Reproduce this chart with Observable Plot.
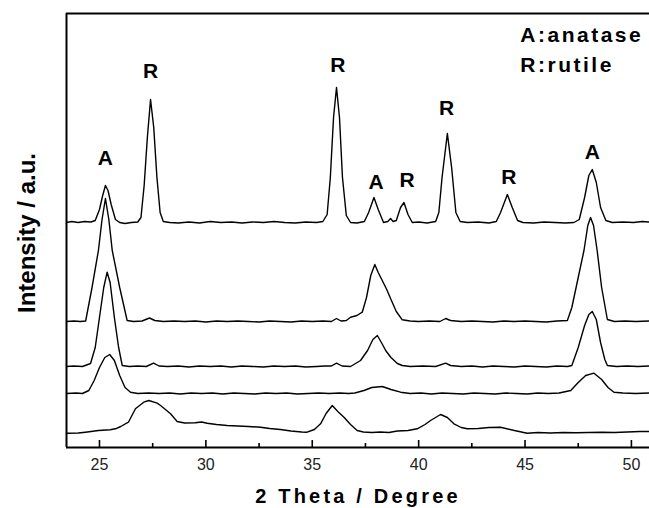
<!DOCTYPE html>
<html><head><meta charset="utf-8">
<script src="https://cdn.jsdelivr.net/npm/d3@7"></script>
<script src="https://cdn.jsdelivr.net/npm/@observablehq/plot@0.6"></script>
<style>
html,body{margin:0;padding:0;background:#fff;}
</style></head><body><div id="chart"></div>
<script>
// 2θ (degree) vs intensity (a.u., stacked with offsets)
const seriesNames = ["sample 1", "sample 2", "sample 3", "sample 4", "sample 5"];
const trace1 = [[23.45,225],[23.7,226],[24.0,225],[24.3,226],[24.6,225.5],[24.8,227],[25.0,238],[25.15,252],[25.28,262],[25.4,257],[25.55,243],[25.75,228],[25.95,225],[26.2,224],[26.5,225],[26.8,225.5],[26.95,230],[27.1,262],[27.25,310],[27.4,348],[27.55,320],[27.7,270],[27.85,235],[28.0,226],[28.3,225],[28.7,224.5],[29.2,225.5],[29.7,224.5],[30.2,226],[30.7,225],[31.2,225.5],[31.7,224.5],[32.2,225.5],[32.7,225],[33.2,226],[33.7,225],[34.2,224.5],[34.7,225.5],[35.2,225],[35.5,226],[35.7,233],[35.85,270],[36.0,330],[36.14,360],[36.28,330],[36.42,270],[36.6,232],[36.8,225],[37.1,224.5],[37.45,226],[37.65,235],[37.9,250],[38.1,238],[38.35,225],[38.55,226],[38.68,229],[38.8,226],[38.95,227],[39.15,240],[39.31,245],[39.5,233],[39.7,225],[40.0,225.5],[40.4,224.5],[40.8,226],[40.95,235],[41.1,270],[41.35,314],[41.55,280],[41.75,235],[41.95,226],[42.3,225],[42.8,225.5],[43.3,224.5],[43.65,226],[43.85,235],[44.17,253],[44.4,240],[44.65,227],[44.9,225],[45.4,224.5],[45.9,225.5],[46.4,225],[46.9,224.5],[47.3,225],[47.55,228],[47.8,250],[48.0,272],[48.16,278],[48.35,265],[48.55,240],[48.8,227],[49.1,225],[49.6,225.5],[50.1,225],[50.5,226],[50.85,225.5]];
const trace2 = [[23.45,126],[23.8,126.5],[24.1,126],[24.35,126.5],[24.65,160],[24.95,197],[25.12,228],[25.28,249],[25.44,228],[25.6,197],[25.95,160],[26.3,127],[26.6,126],[27.0,126.5],[27.35,129.5],[27.6,127],[28.0,126],[28.5,126.5],[29.0,126],[29.5,126.5],[30.0,125.5],[30.5,126.5],[31.0,126],[31.5,126.5],[32.0,126],[32.5,125.5],[33.0,126.5],[33.5,126],[34.0,125.5],[34.5,126.5],[35.0,126],[35.5,126.5],[35.9,126],[36.14,129],[36.35,126.5],[36.6,127],[36.8,130.3],[37.1,132],[37.35,135.3],[37.55,150],[37.75,172],[37.94,183],[38.1,175],[38.29,167],[38.5,158],[38.68,149],[38.95,136],[39.23,127.7],[39.6,126.5],[40.0,126],[40.5,126.5],[41.0,126],[41.27,129],[41.5,127],[42.0,126],[42.5,126.5],[43.0,126],[43.5,125.5],[44.0,126.5],[44.5,126],[45.0,126.5],[45.5,126],[46.0,125.5],[46.5,126.5],[46.99,127],[47.2,140],[47.45,165],[47.77,197],[47.95,222],[48.08,230],[48.22,222],[48.39,197],[48.6,160],[48.87,128],[49.2,126],[49.7,126.5],[50.2,126],[50.85,126.5]];
const trace3 = [[23.45,81],[23.8,81.5],[24.2,81],[24.58,84],[24.8,100],[25.0,130],[25.2,160],[25.36,175.3],[25.5,165],[25.7,130],[25.9,100],[26.07,82],[26.4,81],[26.8,81.5],[27.2,81],[27.54,84.3],[27.8,81.5],[28.2,81],[28.7,81.5],[29.2,80.5],[29.7,81.5],[30.2,81],[30.7,81.5],[31.2,80.5],[31.7,81.5],[32.2,81],[32.7,80.5],[33.2,81.5],[33.7,81],[34.2,81.5],[34.7,80.5],[35.2,81],[35.6,81.5],[35.9,81.5],[36.14,84.3],[36.4,81.5],[36.8,81],[37.27,87],[37.6,97],[37.85,108],[38.06,112],[38.25,105],[38.45,97],[38.7,90],[39.0,84],[39.23,82],[39.6,81],[40.2,81.5],[40.8,81],[41.27,84.3],[41.5,82],[42.0,81],[42.5,81.5],[43.0,80.5],[43.5,81.5],[44.0,81],[44.5,80.5],[45.0,81.5],[45.5,81],[46.0,80.5],[46.5,81.5],[47.0,81],[47.2,82],[47.5,100],[47.8,122],[48.0,133],[48.16,136],[48.35,128],[48.55,105],[48.75,88],[48.87,82],[49.3,81],[49.8,81.5],[50.3,81],[50.85,81.5]];
const trace4 = [[23.45,54],[23.9,54.5],[24.2,54],[24.5,57],[24.75,67],[25.0,80],[25.25,90],[25.48,93],[25.7,87],[25.95,72],[26.2,60],[26.46,55.3],[26.8,54],[27.3,54.5],[27.8,54],[28.3,54.5],[28.8,53.5],[29.3,54.5],[29.8,54],[30.3,54.5],[30.8,53.5],[31.3,54.5],[31.8,54],[32.3,53.5],[32.8,54.5],[33.3,54],[33.8,54.5],[34.3,53.5],[34.8,54],[35.3,54.5],[35.8,54],[36.3,54.5],[36.7,54],[37.0,54.5],[37.43,57],[37.8,60],[38.29,61],[38.7,58],[39.15,55.3],[39.6,54],[40.1,54.5],[40.6,53.5],[41.1,54.5],[41.6,54],[42.1,53.5],[42.6,54.5],[43.1,54],[43.6,53.5],[44.1,54.5],[44.6,54],[45.1,53.5],[45.6,54.5],[46.1,54],[46.6,54.5],[47.15,57],[47.5,65],[47.85,72],[48.24,74.3],[48.6,68],[48.9,60],[49.18,55.3],[49.6,54.5],[50.2,54],[50.85,54.5]];
const trace5 = [[23.45,14.3],[24.0,14.5],[24.34,15.3],[24.95,17],[25.5,17.7],[25.75,18.7],[26.0,21],[26.36,25.3],[26.69,38.7],[27.08,45.3],[27.32,47],[27.71,44.3],[27.87,42],[28.34,33.7],[28.65,26],[29.0,24.5],[29.5,24.8],[29.8,25.5],[30.06,24.3],[30.5,23],[31.0,22],[31.5,21.5],[32.0,21],[32.57,20.3],[33.0,19],[33.5,18],[34.0,16.5],[34.5,15.5],[34.76,15.3],[35.1,18],[35.39,23.7],[35.65,34],[35.94,42],[36.2,36],[36.49,30.3],[36.8,23],[37.11,17],[37.4,15.5],[37.8,15],[38.2,15.5],[38.6,15],[39.0,16.5],[39.5,17],[39.93,18.7],[40.3,23],[40.56,27],[41.03,33],[41.35,30],[41.66,23.7],[42.0,20],[42.29,18.7],[42.8,19],[43.3,20],[43.85,20.3],[44.5,17],[45.1,14.3],[45.6,15],[46.2,14.5],[46.8,15],[47.4,14.7],[48.0,15],[48.6,15.3],[49.2,15],[49.8,15.5],[50.4,16],[50.85,16]];
const traces = [trace1, trace2, trace3, trace4, trace5];

const xTicks = [25, 30, 35, 40, 45, 50];
const xMinorTicks = [27.5, 32.5, 37.5, 42.5, 47.5];

const peakLabelText = ["A", "R", "R", "A", "R", "R", "R", "A"];
const peakLabelX = [25.28, 27.4, 36.2, 38.0, 39.46, 41.31, 44.24, 48.16];
const peakLabelY = [289, 376, 382, 265, 267, 339, 270, 295];

const legendText = ["A:anatase", "R:rutile"];
const legendX = [44.78, 44.78];
const legendY = [412, 382];

const xTitle = "2 Theta / Degree";
const yTitle = "Intensity / a.u.";

const rows = traces.flatMap((t, i) => t.map(([x, y]) => ({series: seriesNames[i], x, y})));
const peaks = peakLabelText.map((t, i) => ({t, x: peakLabelX[i], y: peakLabelY[i]}));
const legend = legendText.map((t, i) => ({t, x: legendX[i], y: legendY[i]}));

const font = "'Liberation Sans', Arial, Helvetica, sans-serif";
const chart = Plot.plot({
  width: 649, height: 508,
  marginLeft: 66, marginRight: 0, marginTop: 13, marginBottom: 61,
  style: {fontFamily: font, background: "#fff", color: "#000"},
  x: {domain: [23.45, 50.85]},
  y: {domain: [0, 434], axis: null},
  marks: [
    Plot.axisX({ticks: xTicks, tickSize: 0, tickPadding: 11, fontSize: 16, label: null, tickFormat: d => String(d), fill: "#222"}),
    Plot.ruleX(xTicks, {y1: 0, y2: 7, stroke: "#000", strokeWidth: 1.6}),
    Plot.ruleX(xMinorTicks, {y1: 0, y2: 4, stroke: "#000", strokeWidth: 1.6}),
    Plot.line(rows, {x: "x", y: "y", z: "series", stroke: "#000", strokeWidth: 1.4}),
    Plot.ruleY([0], {stroke: "#000", strokeWidth: 2}),
    Plot.ruleY([434], {stroke: "#000", strokeWidth: 2}),
    Plot.ruleX([23.45], {stroke: "#000", strokeWidth: 2}),
    Plot.text(peaks, {x: "x", y: "y", text: "t", fontSize: 21, fontWeight: "bold", fill: "#000", textAnchor: "middle", lineAnchor: "middle"}),
    Plot.text(legend, {x: "x", y: "y", text: "t", fontSize: 21, fontWeight: "bold", fill: "#000", textAnchor: "start", lineAnchor: "middle"}),
    Plot.text([xTitle], {text: d => d, frameAnchor: "bottom", dy: 49, fontSize: 20, fontWeight: "bold", fill: "#000", textAnchor: "middle", lineAnchor: "middle"}),
    Plot.text([yTitle], {text: d => d, frameAnchor: "left", rotate: -90, dx: -39, dy: 2.5, fontSize: 24, fontWeight: "bold", fill: "#000", textAnchor: "middle", lineAnchor: "middle"})
  ]
});
d3.select(chart).selectAll("text")
  .filter(function () { return legendText.includes(this.textContent); })
  .style("letter-spacing", "2.5px");
d3.select(chart).selectAll("text")
  .filter(function () { return this.textContent === xTitle; })
  .style("letter-spacing", "3.2px");
document.getElementById("chart").appendChild(chart);
</script>
</body></html>
